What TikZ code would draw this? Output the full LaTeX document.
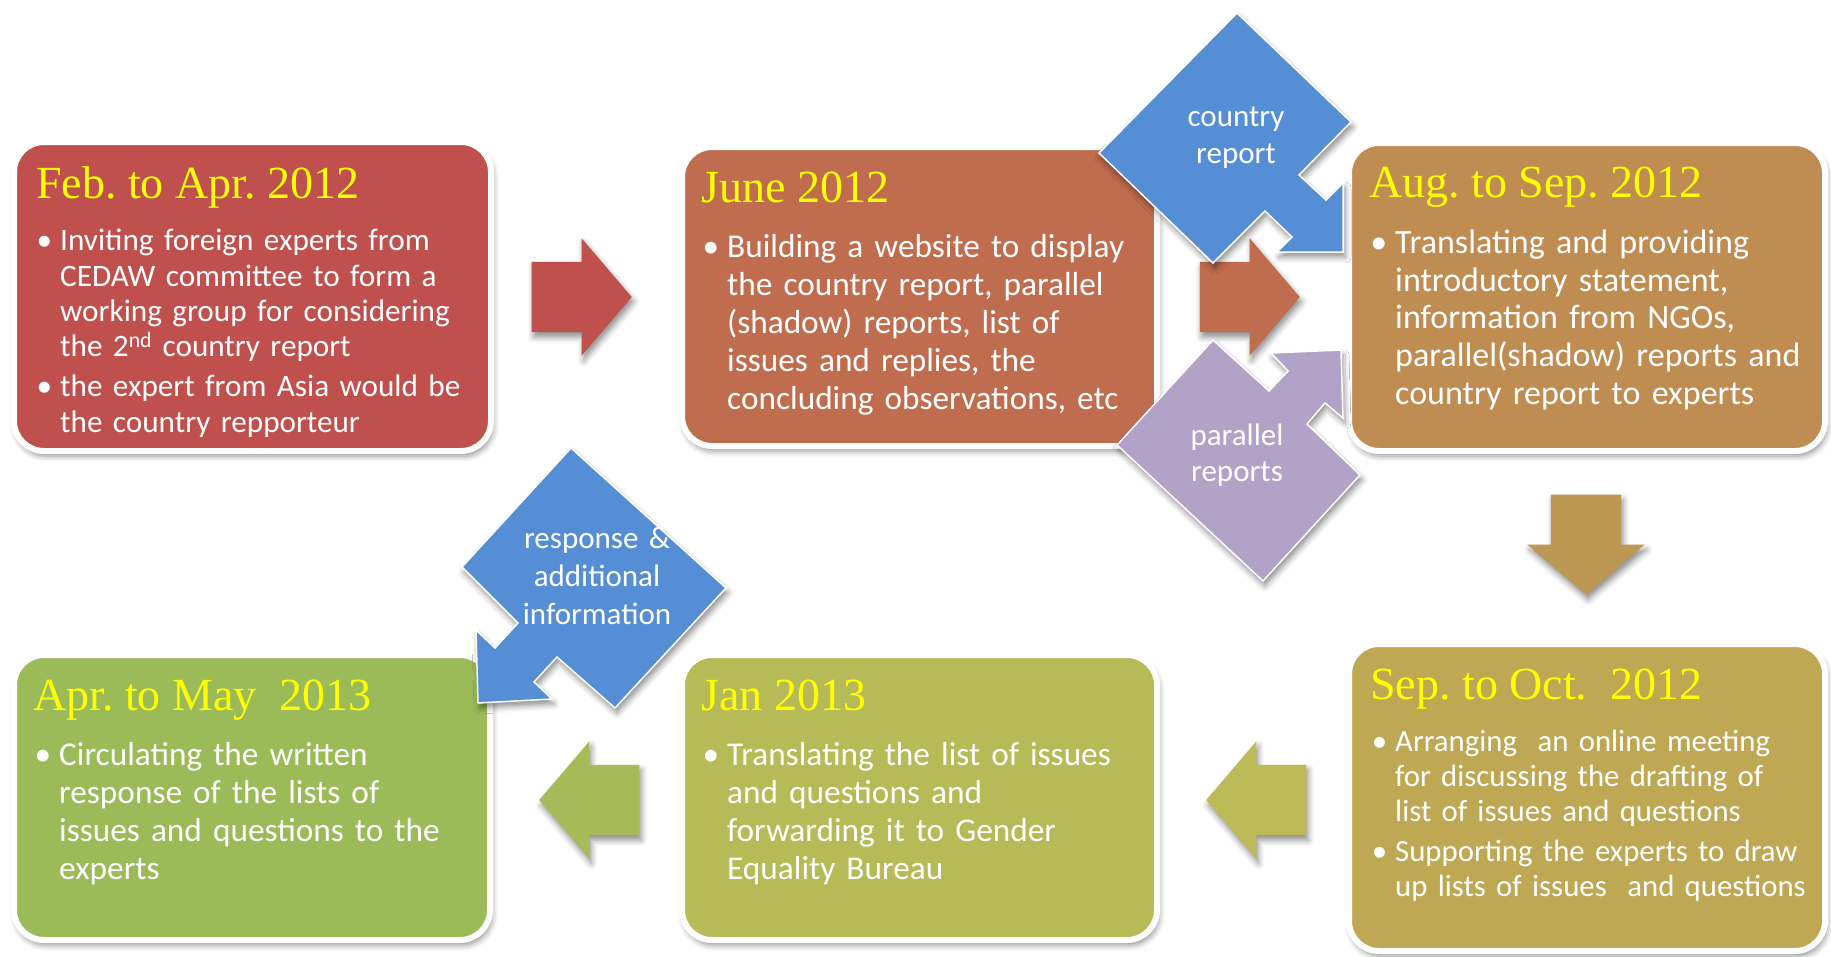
\documentclass[tikz,border=0pt]{standalone}
\usepackage{fontspec}
\newfontfamily\bodyfont{Carlito}
\newfontfamily\datefont{Liberation Serif}
\usetikzlibrary{shapes.arrows,shadows.blur}
\frenchspacing

\definecolor{redbox}{RGB}{192,80,77}
\definecolor{junebox}{RGB}{191,109,78}
\definecolor{augbox}{RGB}{191,140,82}
\definecolor{sepbox}{RGB}{190,168,84}
\definecolor{janbox}{RGB}{182,187,88}
\definecolor{aprbox}{RGB}{155,187,89}
\definecolor{downgold}{RGB}{188,152,84}
\definecolor{leftolive}{RGB}{189,187,87}
\definecolor{leftgreen}{RGB}{168,187,89}
\definecolor{flowblue}{RGB}{85,142,213}
\definecolor{flowlilac}{RGB}{179,162,199}
\definecolor{dateyellow}{RGB}{255,255,0}

\tikzset{
  softshadow/.style={blur shadow={shadow xshift=2pt, shadow yshift=-5pt, shadow blur radius=6pt, shadow opacity=45}},
  stagebox/.style={rectangle, rounded corners=30pt, draw=white, line width=6pt, softshadow},
  datetitle/.style={anchor=base west, inner sep=0pt, text=dateyellow, font=\datefont\fontsize{46}{52}\selectfont},
  itemtext/.style={anchor=base west, inner sep=0pt, text=white, text width=440pt, align=left},
  smallitems/.style={font=\bodyfont\fontsize{31.2}{35.3}\selectfont},
  largeitems/.style={font=\bodyfont\fontsize{33.3}{38}\selectfont},
  blockarrow/.style={single arrow, minimum height=100pt, minimum width=117pt, single arrow head extend=23.5pt, single arrow tip angle=99, inner xsep=0pt, inner ysep=35pt, anchor=tip, softshadow},
  bentarrow/.style={draw=white, line width=1.5pt, softshadow},
  flowlabel/.style={anchor=base, inner sep=0pt, text=white, text width=180pt, align=center, font=\bodyfont\fontsize{31}{36.5}\selectfont},
}

\begin{document}
\begin{tikzpicture}[x=1pt, y=-1pt]
\useasboundingbox (0,0) rectangle (1831,956);

% stages
\node[stagebox, fill=redbox, minimum width=477pt, minimum height=309pt] (feb) at (252.5,296.5) {};
\node[stagebox, fill=junebox, minimum width=475pt, minimum height=299pt] (june) at (919.5,296.5) {};
\node[stagebox, fill=augbox, minimum width=476pt, minimum height=308pt] (aug) at (1587,297) {};
\node[stagebox, fill=sepbox, minimum width=476pt, minimum height=307pt] (sep) at (1587,797.5) {};
\node[stagebox, fill=janbox, minimum width=475pt, minimum height=285pt] (jan) at (919.5,797.5) {};
\node[stagebox, fill=aprbox, minimum width=476pt, minimum height=285pt] (apr) at (252,797.5) {};

% texts of the stages
\node[datetitle] (febtitle) at (36,198) {Feb. to Apr. 2012};
\node[itemtext, smallitems] (febone) at (60,250.7) {\llap{\textbullet\hspace{8pt}}Inviting foreign experts from\\CEDAW committee to form a\\working group for considering\\the 2\textsuperscript{nd} country report};
\node[itemtext, smallitems] (febtwo) at (60,396.7) {\llap{\textbullet\hspace{8pt}}the expert from Asia would be\\the country repporteur};

\node[datetitle] (junetitle) at (701,202.7) {June 2012};
\node[itemtext, largeitems] (juneone) at (727,257) {\llap{\textbullet\hspace{8pt}}Building a website to display\\the country report, parallel\\(shadow) reports, list of\\issues and replies, the\\concluding observations, etc};

\node[datetitle] (augtitle) at (1369,197.7) {Aug. to Sep. 2012};
\node[itemtext, font=\bodyfont\fontsize{34}{37.7}\selectfont] (augone) at (1395,253.3) {\llap{\textbullet\hspace{8pt}}Translating and providing\\introductory statement,\\information from NGOs,\\parallel(shadow) reports and\\country report to experts};

\node[datetitle] (septitle) at (1370,699.3) {Sep. to Oct.\ \ 2012};
\node[itemtext, font=\bodyfont\fontsize{30.8}{35}\selectfont] (sepone) at (1395,751.7) {\llap{\textbullet\hspace{8pt}}Arranging\ \ an online meeting\\for discussing the drafting of\\list of issues and questions};
\node[itemtext, font=\bodyfont\fontsize{30.8}{35}\selectfont] (septwo) at (1395,861.7) {\llap{\textbullet\hspace{8pt}}Supporting the experts to draw\\up lists of issues\ \ and questions};

\node[datetitle] (jantitle) at (701,710) {Jan 2013};
\node[itemtext, largeitems] (janone) at (727,765) {\llap{\textbullet\hspace{8pt}}Translating the list of issues\\and questions and\\forwarding it to Gender\\Equality Bureau};

\node[datetitle] (aprtitle) at (33,710) {Apr. to May\ \ 2013};
\node[itemtext, largeitems] (aprone) at (59,765) {\llap{\textbullet\hspace{8pt}}Circulating the written\\response of the lists of\\issues and questions to the\\experts};

% block arrows between stages
\node[blockarrow, fill=redbox] (febjune) at (632,297) {};
\node[blockarrow, fill=junebox] (juneaug) at (1300,297) {};
\node[blockarrow, fill=downgold, rotate=-90] (augsep) at (1586,595) {};
\node[blockarrow, fill=leftolive, rotate=180] (sepjan) at (1206,800) {};
\node[blockarrow, fill=leftgreen, rotate=180] (janapr) at (539,800) {};

% bent arrows
\path[bentarrow, fill=flowblue] (1237,13) -- (1351,122) -- (1299,175) -- (1326,200) -- (1343,183) -- (1343,252) -- (1277,252) -- (1292,237) -- (1265,211) -- (1213,263) -- (1099,153) -- cycle;
\node[flowlabel] (country) at (1236,126.7) {country\\report};

\path[bentarrow, fill=flowlilac] (1213,340) -- (1269,391) -- (1288,371) -- (1271,353) -- (1341,350) -- (1343,418) -- (1325,403) -- (1307,424) -- (1360,475) -- (1263,581) -- (1117,445) -- cycle;
\node[flowlabel] (parallel) at (1237,445) {parallel\\reports};

\path[bentarrow, fill=flowblue] (571,448) -- (726,588) -- (615,708) -- (557,657) -- (534,682) -- (552,699) -- (478,703) -- (476,630) -- (495,648) -- (518,623) -- (462,567) -- cycle;
\node[flowlabel, font=\bodyfont\fontsize{31}{38.3}\selectfont] (response) at (597,548.3) {response \&\\additional\\information};
\end{tikzpicture}
\end{document}
